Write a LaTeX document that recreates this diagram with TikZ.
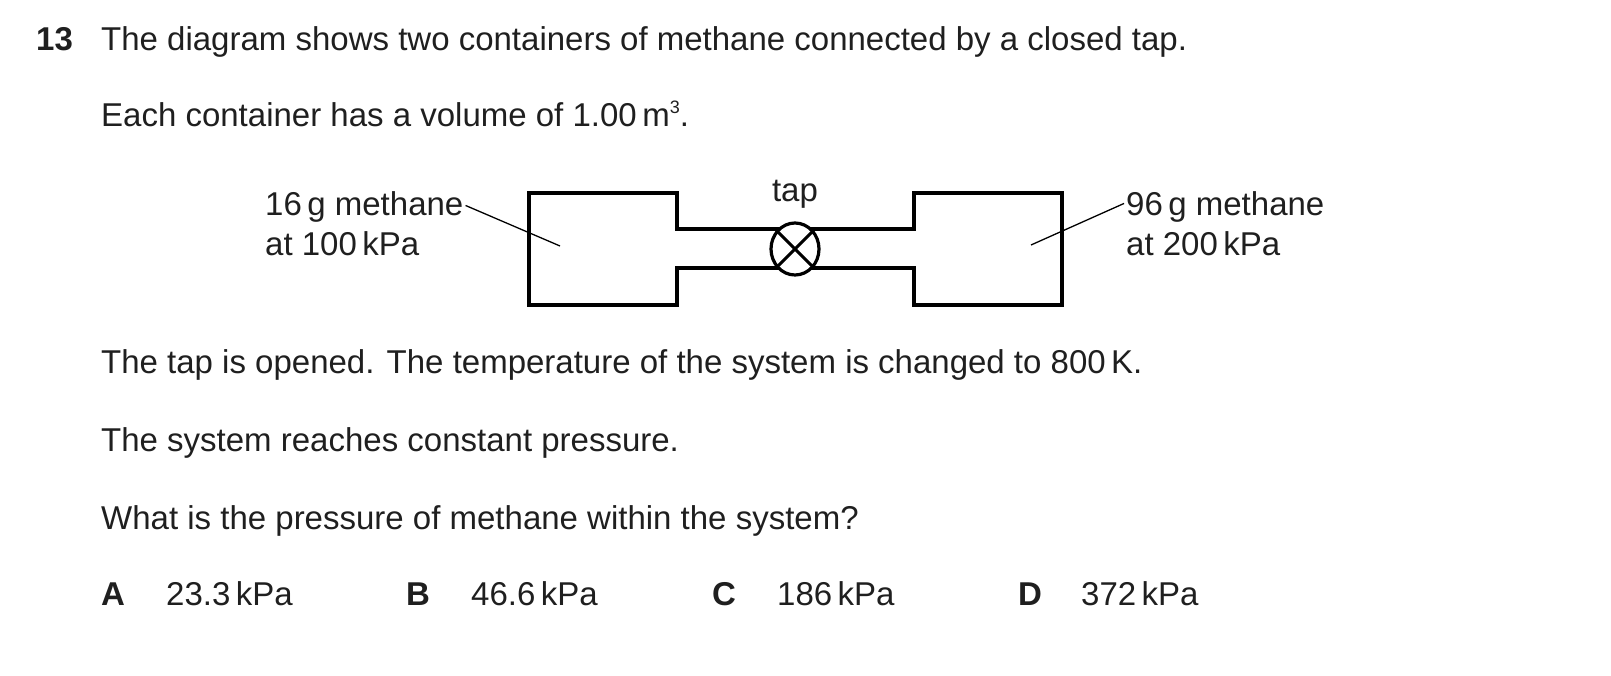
\documentclass[tikz,border=0pt]{standalone}
\usepackage{fontspec}
\usetikzlibrary{shapes.geometric}
\setmainfont{Liberation Sans}
\begin{document}
\begin{tikzpicture}[x=1pt,y=-1pt,
  txt/.style={anchor=base west,inner sep=0pt,font=\fontsize{33}{38}\selectfont,text=black!88},
  bold/.style={txt,font=\fontsize{33}{38}\selectfont\bfseries},
  lbl/.style={txt},
  wall/.style={line width=3.2pt,line join=miter},
  lead/.style={line width=1.3pt}]
\useasboundingbox (0,0) rectangle (1611,676);
\node[bold] (q) at (36,51) {13};
\node[txt] (l1) at (101,51) {The diagram shows two containers of methane connected by a closed tap.};
\node[txt] (l2) at (101,127) {Each container has a volume of 1.00\,m\raisebox{0.75ex}{\fontsize{18}{20}\selectfont 3}.};
% containers
\draw[wall] (677,229) -- (677,193) -- (529,193) -- (529,305) -- (677,305) -- (677,268) -- (914,268) -- (914,305) -- (1062,305) -- (1062,193) -- (914,193) -- (914,229) -- cycle;
\node[draw,ellipse,line width=3.2pt,minimum width=48pt,minimum height=52pt,inner sep=0pt,fill=white] (tap) at (795,249) {};
\draw[line width=3pt] (tap.45) -- (tap.225) (tap.135) -- (tap.315);
\node[lbl,anchor=base] (taplbl) at (795,202) {tap};
\node[lbl] (lA) at (265,216) {16\,g methane};
\node[lbl] (lA2) at (265,256) {at 100\,kPa};
\node[lbl] (lB) at (1126,216) {96\,g methane};
\node[lbl] (lB2) at (1126,256) {at 200\,kPa};
\coordinate (inA) at (560,246);
\coordinate (inB) at (1031,245);
\draw[lead] (lA.east) ++(2,-2) coordinate (sa) (sa) -- (inA);
\draw[lead] (lB.west) ++(-2,-4) coordinate (sb) (sb) -- (inB);
\node[txt] (l3) at (101,373) {The tap is opened. The temperature of the system is changed to 800\,K.};
\node[txt] (l4) at (101,451) {The system reaches constant pressure.};
\node[txt] (l5) at (101,529) {What is the pressure of methane within the system?};
\node[bold] (oA) at (101,605) {A};
\node[txt] (vA) at (166,605) {23.3\,kPa};
\node[bold] (oB) at (406,605) {B};
\node[txt] (vB) at (471,605) {46.6\,kPa};
\node[bold] (oC) at (712,605) {C};
\node[txt] (vC) at (777,605) {186\,kPa};
\node[bold] (oD) at (1018,605) {D};
\node[txt] (vD) at (1081,605) {372\,kPa};
\end{tikzpicture}
\end{document}
